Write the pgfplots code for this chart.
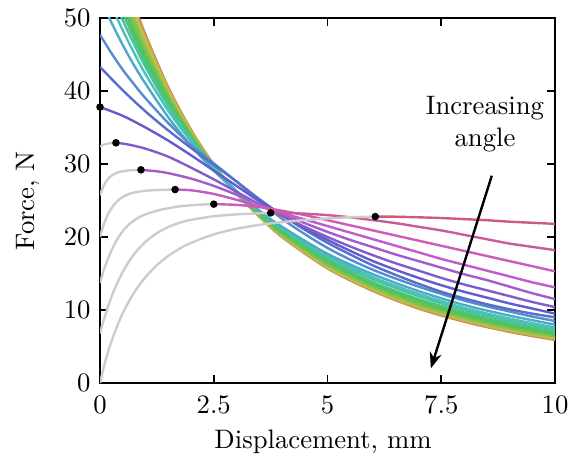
\documentclass[border=0pt]{standalone}
\usepackage{pgfplots}
\pgfplotsset{compat=1.18}
\usetikzlibrary{arrows.meta}
\definecolor{c1}{Hsb}{345,0.55,0.80}
\definecolor{c2}{Hsb}{328,0.55,0.80}
\definecolor{c3}{Hsb}{311,0.55,0.80}
\definecolor{c4}{Hsb}{294,0.55,0.80}
\definecolor{c5}{Hsb}{278,0.55,0.80}
\definecolor{c6}{Hsb}{261,0.55,0.80}
\definecolor{c7}{Hsb}{244,0.55,0.80}
\definecolor{c8}{Hsb}{227,0.58,0.80}
\definecolor{c9}{Hsb}{210,0.60,0.80}
\definecolor{c10}{Hsb}{193,0.62,0.78}
\definecolor{c11}{Hsb}{177,0.62,0.76}
\definecolor{c12}{Hsb}{160,0.62,0.76}
\definecolor{c13}{Hsb}{143,0.60,0.76}
\definecolor{c14}{Hsb}{126,0.58,0.76}
\definecolor{c15}{Hsb}{109,0.58,0.76}
\definecolor{c16}{Hsb}{93,0.60,0.76}
\definecolor{c17}{Hsb}{76,0.62,0.76}
\definecolor{c18}{Hsb}{59,0.62,0.76}
\definecolor{c19}{Hsb}{42,0.62,0.80}
\definecolor{c20}{Hsb}{25,0.62,0.80}
\begin{document}
\begin{tikzpicture}
\begin{axis}[
  scale only axis, width=170.4pt, height=136.7pt,
  xmin=0, xmax=10, ymin=0, ymax=50,
  xtick={0,2.5,5,7.5,10}, ytick={0,10,20,30,40,50},
  xlabel={Displacement, mm}, ylabel={Force, N},
  tick align=inside, major tick length=3pt,
  axis line style={line width=0.6pt},
  every tick/.style={black, line width=0.6pt},
  xlabel style={at={(axis description cs:0.49,-0.16)},anchor=center},
  ylabel style={at={(axis description cs:-0.158,0.5)},anchor=center},
  xticklabel style={yshift=-1.5pt},
  col/.style={line width=0.9pt, smooth},
  gr/.style={line width=0.9pt, smooth, black!20},
]
% c20 ... c10 (no gray part)
\addplot[col,c20] coordinates {(0,68.0)(0.25,62.0)(0.5,56.7)(0.75,51.9)(1,47.7)(1.5,40.5)(2,34.7)(2.5,29.9)(3,26.0)(3.5,22.8)(4,20.0)(5,15.7)(6,12.6)(7,10.2)(8,8.41)(9,7.01)(10,5.9)};
\addplot[col,c19] coordinates {(0,67.1)(0.25,61.2)(0.5,56.0)(0.75,51.4)(1,47.3)(1.5,40.3)(2,34.6)(2.5,29.9)(3,26.0)(3.5,22.8)(4,20.1)(5,15.8)(6,12.7)(7,10.3)(8,8.53)(9,7.12)(10,6.0)};
\addplot[col,c18] coordinates {(0,66.0)(0.25,60.4)(0.5,55.3)(0.75,50.9)(1,46.9)(1.5,40.0)(2,34.4)(2.5,29.8)(3,26.0)(3.5,22.9)(4,20.2)(5,15.9)(6,12.8)(7,10.5)(8,8.64)(9,7.22)(10,6.1)};
\addplot[col,c17] coordinates {(0,64.4)(0.25,59.1)(0.5,54.3)(0.75,50.0)(1,46.2)(1.5,39.6)(2,34.2)(2.5,29.7)(3,26.0)(3.5,22.9)(4,20.3)(5,16.1)(6,13.0)(7,10.6)(8,8.81)(9,7.38)(10,6.25)};
\addplot[col,c16] coordinates {(0,63.2)(0.25,58.1)(0.5,53.5)(0.75,49.4)(1,45.7)(1.5,39.3)(2,34.0)(2.5,29.7)(3,26.1)(3.5,23.0)(4,20.4)(5,16.2)(6,13.2)(7,10.8)(8,8.98)(9,7.55)(10,6.4)};
\addplot[col,c15] coordinates {(0,61.8)(0.25,56.9)(0.5,52.6)(0.75,48.6)(1,45.1)(1.5,39.0)(2,33.9)(2.5,29.7)(3,26.1)(3.5,23.1)(4,20.6)(5,16.5)(6,13.4)(7,11.0)(8,9.21)(9,7.76)(10,6.6)};
\addplot[col,c14] coordinates {(0,60.4)(0.25,55.8)(0.5,51.6)(0.75,47.9)(1,44.5)(1.5,38.6)(2,33.7)(2.5,29.6)(3,26.2)(3.5,23.2)(4,20.7)(5,16.7)(6,13.6)(7,11.3)(8,9.43)(9,7.97)(10,6.8)};
\addplot[col,c13] coordinates {(0,59.0)(0.25,54.7)(0.5,50.7)(0.75,47.2)(1,43.9)(1.5,38.3)(2,33.6)(2.5,29.6)(3,26.2)(3.5,23.3)(4,20.9)(5,16.9)(6,13.8)(7,11.5)(8,9.66)(9,8.19)(10,7.0)};
\addplot[col,c12] coordinates {(0,57.4)(0.25,53.4)(0.5,49.7)(0.75,46.4)(1,43.3)(1.5,37.9)(2,33.4)(2.5,29.6)(3,26.3)(3.5,23.6)(4,21.1)(5,17.2)(6,14.2)(7,11.9)(8,10.0)(9,8.51)(10,7.3)};
\addplot[col,c11] coordinates {(0,55.4)(0.25,51.7)(0.5,48.3)(0.75,45.2)(1,42.3)(1.5,37.3)(2,33.1)(2.5,29.4)(3,26.3)(3.5,23.6)(4,21.3)(5,17.5)(6,14.5)(7,12.2)(8,10.3)(9,8.82)(10,7.6)};
\addplot[col,c10] coordinates {(0,52.7)(0.25,49.4)(0.5,46.3)(0.75,43.5)(1,41.0)(1.5,36.4)(2,32.5)(2.5,29.1)(3,26.2)(3.5,23.6)(4,21.4)(5,17.7)(6,14.9)(7,12.6)(8,10.7)(9,9.23)(10,8.0)};
\addplot[col,c9] coordinates {(0,47.7)(0.25,45.2)(0.5,42.9)(0.75,40.9)(1,39.0)(1.5,35.6)(2,32.6)(2.5,30.1)(3,27.6)(3.5,25.0)(4,22.5)(4.5,20.4)(5,18.5)(5.5,16.9)(6,15.5)(6.5,14.3)(7,13.2)(7.5,12.2)(8,11.3)(8.5,10.5)(9,9.8)(9.5,9.1)(10,8.5)};
\addplot[col,c8] coordinates {(0,43.3)(0.5,40.1)(1,37.2)(1.5,34.6)(2,32.2)(2.5,29.9)(3,27.6)(3.5,25.2)(4,23.0)(4.5,21.0)(5,19.2)(5.5,17.6)(6,16.1)(6.5,14.8)(7,13.6)(7.5,12.5)(8,11.6)(8.5,10.8)(9,10.1)(9.5,9.5)(10,9.0)};
\addplot[col,c7] coordinates {(0,37.8)(0.5,36.6)(1,35.0)(1.5,33.2)(2,31.2)(2.5,29.1)(3,27.0)(3.5,24.9)(4,23.0)(4.5,21.2)(5,19.6)(5.5,18.1)(6,16.7)(6.5,15.5)(7,14.4)(7.5,13.4)(8,12.5)(8.5,11.7)(9,10.9)(9.5,10.2)(10,9.5)};
% c6 ... c1 (gray rising part, then coloured part)
\addplot[gr] coordinates {(0,32.4)(0.1,32.7)(0.2,32.83)(0.35,32.9)};
\addplot[col,c6] coordinates {(0.35,32.9)(0.6,32.7)(1,32.1)(1.5,31.0)(2,29.5)(2.5,27.9)(3,26.2)(3.5,24.5)(4,22.9)(4.5,21.4)(5,20.0)(5.5,18.7)(6,17.5)(6.5,16.4)(7,15.4)(7.5,14.4)(8,13.5)(8.5,12.7)(9,11.9)(9.5,11.1)(10,10.4)};
\addplot[gr] coordinates {(0,25.7)(0.05,26.59)(0.1,27.26)(0.15,27.75)(0.2,28.12)(0.3,28.6)(0.4,28.87)(0.55,29.06)(0.7,29.14)(0.9,29.2)};
\addplot[col,c5] coordinates {(0.9,29.2)(1.25,29.0)(1.5,28.75)(2,28.0)(2.5,27.0)(3,25.8)(3.5,24.5)(4,23.2)(4.5,21.9)(5,20.7)(5.5,19.6)(6,18.6)(6.5,17.6)(7,16.7)(7.5,15.8)(8,14.9)(8.5,14.1)(9,13.2)(9.5,12.3)(10,11.5)};
\addplot[gr] coordinates {(0,20.0)(0.05,21.1)(0.1,22.02)(0.15,22.77)(0.2,23.4)(0.3,24.36)(0.4,25.02)(0.5,25.48)(0.65,25.92)(0.8,26.16)(1.0,26.34)(1.2,26.42)(1.4,26.47)(1.65,26.5)};
\addplot[col,c4] coordinates {(1.65,26.5)(2,26.4)(2.5,25.9)(3,25.1)(3.5,24.2)(4,23.3)(4.5,22.4)(5,21.5)(5.5,20.6)(6,19.7)(6.5,18.8)(7,17.9)(7.5,17.0)(8,16.2)(8.5,15.4)(9,14.6)(9.5,13.8)(10,13.1)};
\addplot[gr] coordinates {(0,13.7)(0.05,14.8)(0.1,15.8)(0.2,17.4)(0.3,18.8)(0.4,19.9)(0.5,20.8)(0.65,21.8)(0.8,22.5)(1.0,23.1)(1.25,23.6)(1.5,23.95)(1.75,24.2)(2.0,24.35)(2.25,24.45)(2.5,24.5)};
\addplot[col,c3] coordinates {(2.5,24.5)(3,24.4)(3.5,24.1)(4,23.6)(4.5,23.0)(5,22.3)(5.5,21.6)(6,20.9)(6.5,20.2)(7,19.5)(7.5,18.8)(8,18.1)(8.5,17.4)(9,16.7)(9.5,16.0)(10,15.3)};
\addplot[gr] coordinates {(0,6.8)(0.05,7.94)(0.1,8.99)(0.2,10.91)(0.3,12.56)(0.4,13.98)(0.5,15.21)(0.65,16.78)(0.8,18.04)(1.0,19.34)(1.25,20.53)(1.5,21.37)(1.75,21.95)(2.0,22.35)(2.5,22.84)(3.0,23.1)(3.4,23.22)(3.75,23.3)};
\addplot[col,c2] coordinates {(3.75,23.3)(4,23.3)(4.5,23.2)(5,23.0)(5.5,22.7)(6,22.3)(6.5,21.9)(7,21.4)(7.5,20.9)(8,20.3)(8.5,19.7)(9,19.1)(9.5,18.65)(10,18.2)};
\addplot[gr] coordinates {(0,0)(0.05,1.33)(0.1,2.6)(0.2,4.75)(0.3,6.55)(0.4,8.15)(0.5,9.56)(0.65,11.35)(0.8,12.86)(1.0,14.51)(1.25,16.15)(1.5,17.41)(1.75,18.41)(2.0,19.2)(2.5,20.36)(3.0,21.13)(3.5,21.66)(4.0,22.04)(4.5,22.32)(5.0,22.54)(5.5,22.71)(6.05,22.8)};
\addplot[col,c1] coordinates {(6.05,22.8)(6.5,22.78)(7,22.7)(7.5,22.6)(8,22.45)(8.5,22.3)(9,22.1)(9.5,21.95)(10,21.8)};
% peak markers
\addplot[only marks, mark=*, mark size=1.2pt, black] coordinates {(0,37.8)(0.35,32.9)(0.9,29.2)(1.65,26.5)(2.5,24.5)(3.75,23.3)(6.05,22.8)};
\draw[line width=0.9pt, -{Stealth[length=6pt,width=4.5pt]}] (axis cs:8.61,28.4) -- (axis cs:7.27,2.0);
\node[align=center] at (axis cs:8.46,35.5) {Increasing\\angle};
\end{axis}
\pgfresetboundingbox
\path ([shift={(-37.45pt,-28.84pt)}]current axis.south west) rectangle ([shift={(5.6pt,6.74pt)}]current axis.north east);
\end{tikzpicture}
\end{document}
